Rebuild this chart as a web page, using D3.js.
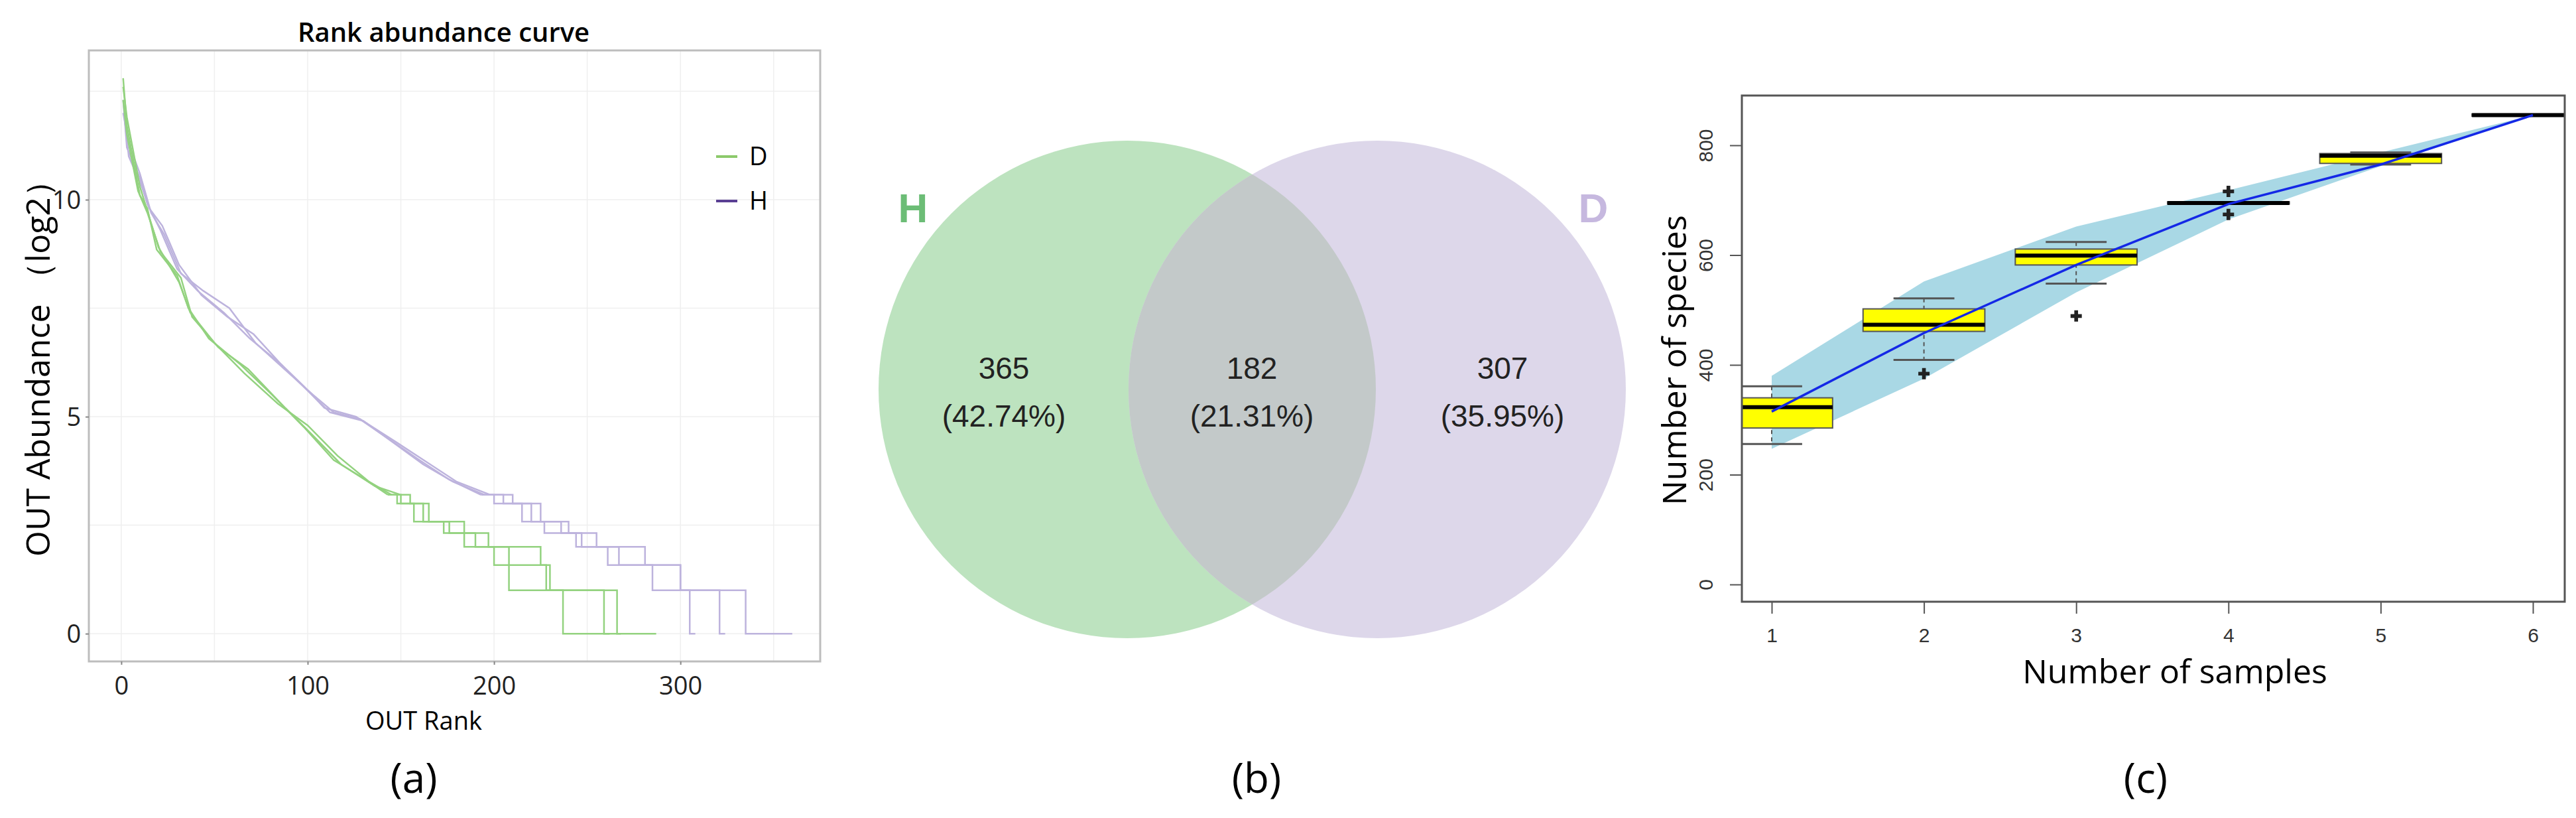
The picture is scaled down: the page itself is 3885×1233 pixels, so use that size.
<!DOCTYPE html>
<html><head><meta charset="utf-8">
<script src="https://cdn.jsdelivr.net/npm/d3@7"></script>
<style>body{margin:0;background:#fff}svg{display:block}</style>
</head><body><div id="fig"></div>
<script>
// ---- panel (a): rank abundance, [rank, log2 abundance]
const rankTicks = [0, 100, 200, 300];
const abundTicks = [0, 5, 10];
const groupNames = ["D", "H"];
const dUpper = [
  [[1,12.8],[3,11.7],[10,10.1],[14,9.8],[19,8.85],[30,8.25],[36,7.5],[47,6.8],[64,6.2],[81,5.5],[98,4.76],[114,4.0],[131,3.55],[143,3.2]],
  [[1,12.6],[3,11.9],[10,10.3],[15,9.6],[20,8.9],[31,8.1],[37,7.4],[50,6.7],[66,6.0],[84,5.3],[100,4.8],[116,4.1],[133,3.5],[145,3.2]],
  [[1,12.3],[3,11.5],[9,10.2],[14,9.7],[21,8.8],[32,8.2],[38,7.3],[52,6.6],[68,6.1],[88,5.2],[102,4.6],[118,3.9],[136,3.4],[150,3.2]]
];
const dTail = [
  [[148,3],[157,2.58],[173,2.32],[184,2],[200,1.58],[208,1],[237,0],[287,0]],
  [[150,3],[162,2.58],[176,2.32],[190,2],[208,1.58],[228,1],[259,0],[262,0]],
  [[155,3],[165,2.58],[184,2.32],[197,2],[225,1.58],[230,1],[266,0],[268,0]]
];
const hUpper = [
  [[1,12.3],[3,11.2],[10,10.5],[14,9.9],[21,9.3],[30,8.4],[41,7.9],[55,7.4],[69,6.8],[86,6.2],[98,5.7],[109,5.2],[126,5.0],[143,4.5],[160,4.0],[176,3.55],[193,3.2]],
  [[2,11.8],[4,11.0],[11,10.3],[15,9.8],[22,9.4],[31,8.5],[43,7.8],[57,7.3],[71,6.9],[88,6.1],[100,5.6],[112,5.1],[130,4.9],[146,4.4],[162,3.9],[178,3.5],[195,3.2]],
  [[1,12.0],[4,11.3],[10,10.6],[16,9.7],[23,9.2],[32,8.3],[44,7.9],[58,7.5],[72,6.7],[90,6.0],[103,5.5],[114,5.1],[128,4.95],[148,4.4],[164,3.95],[180,3.5],[198,3.2]]
];
const hTail = [
  [[200,3],[215,2.58],[236,2.32],[247,2],[261,1.58],[285,1],[305,0],[308,0]],
  [[205,3],[220,2.58],[227,2.32],[255,2],[267,1.58],[300,1],[321,0],[324,0]],
  [[210,3],[225,2.58],[240,2.32],[244,2],[281,1.58],[300,1],[335,0],[360,0]]
];

// ---- panel (b): Venn
const vennLabels = ["H", "D"];
const vennCounts = [365, 182, 307];
const vennPercents = ["42.74%", "21.31%", "35.95%"];

// ---- panel (c): species accumulation boxplots
const sampleN = [1, 2, 3, 4, 5, 6];
const boxLow  = [256, 409, 548, 695, 765, 855];
const boxQ1   = [285, 461, 582, 693, 767, 853];
const boxMed  = [323, 473, 599, 695, 781, 855];
const boxQ3   = [340, 502, 611, 697, 785, 857];
const boxHigh = [361, 521, 624, 695, 787, 855];
const outliers = [[2,384],[3,489],[4,716],[4,674]];
const meanLine = [315, 458, 582, 693, 765, 855];
const bandLow  = [247, 375, 532, 665, 762, 855];
const bandHigh = [380, 552, 652, 718, 787, 855];
const speciesTicks = [0, 200, 400, 600, 800];

const W = 3885, H = 1233;
const svg = d3.select("#fig").append("svg").attr("width", W).attr("height", H);
const FA = "'Open Sans','Noto Sans',sans-serif";
const FR = "'Liberation Sans',Arial,sans-serif";

// ================= (a)
{
  const x = d3.scaleLinear().domain([-17.4, 375]).range([134, 1237]);
  const y = d3.scaleLinear().domain([-0.64, 13.44]).range([997, 76]);
  const g = svg.append("g");
  const grid = g.append("g").attr("stroke", "#efefef").attr("stroke-width", 1.5);
  d3.range(0, 376, 50).forEach(v => grid.append("line").attr("x1", x(v)).attr("x2", x(v)).attr("y1", 76).attr("y2", 997));
  d3.range(0, 13.5, 2.5).forEach(v => grid.append("line").attr("y1", y(v)).attr("y2", y(v)).attr("x1", 134).attr("x2", 1237));
  g.append("rect").attr("x", 134).attr("y", 76).attr("width", 1103).attr("height", 921)
    .attr("fill", "none").attr("stroke", "#bdbdbd").attr("stroke-width", 3);

  const lin = d3.line().x(d => x(d[0])).y(d => y(d[1]));
  const stp = d3.line().x(d => x(d[0])).y(d => y(d[1])).curve(d3.curveStepAfter);
  const draw = (ups, tails, col) => ups.forEach((u, i) => {
    g.append("path").attr("d", lin(u)).attr("fill", "none").attr("stroke", col).attr("stroke-width", 2.5);
    g.append("path").attr("d", stp([u[u.length - 1], ...tails[i]])).attr("fill", "none").attr("stroke", col).attr("stroke-width", 2.5);
  });
  draw(hUpper, hTail, "#bdb3dd");
  draw(dUpper, dTail, "#93d27f");

  const xa = g.append("g").attr("transform", "translate(0,997)")
    .call(d3.axisBottom(x).tickValues(rankTicks).tickSize(5));
  const ya = g.append("g").attr("transform", "translate(134,0)")
    .call(d3.axisLeft(y).tickValues(abundTicks).tickSize(5));
  [xa, ya].forEach(a => {
    a.select(".domain").remove();
    a.selectAll("line").attr("stroke", "#888").attr("stroke-width", 2);
    a.selectAll("text").attr("font-family", FA).attr("font-size", 38).attr("fill", "#222");
  });
  xa.selectAll("text").attr("dy", "1.1em");
  ya.selectAll("text").attr("dx", "-0.1em").attr("dy", "0.35em");

  g.append("text").attr("x", 669).attr("y", 49).attr("text-anchor", "middle").attr("dy", "0.35em")
    .attr("font-family", FA).attr("font-weight", 600).attr("font-size", 40).text("Rank abundance curve");
  g.append("text").attr("x", 639).attr("y", 1087).attr("text-anchor", "middle").attr("dy", "0.35em")
    .attr("font-family", FA).attr("font-size", 38).text("OUT Rank");
  g.append("text").attr("transform", "translate(57,543) rotate(-90)").attr("text-anchor", "middle").attr("dy", "0.35em")
    .attr("font-family", FA).attr("font-size", 50).text("OUT Abundance （log2）");

  const legCols = ["#8cc96b", "#5a3f93"];
  groupNames.forEach((n, i) => {
    const ly = 236 + i * 67;
    g.append("line").attr("x1", 1080).attr("x2", 1112).attr("y1", ly).attr("y2", ly)
      .attr("stroke", legCols[i]).attr("stroke-width", 4);
    g.append("text").attr("x", 1130).attr("y", ly).attr("dy", "0.35em")
      .attr("font-family", FA).attr("font-size", 38).text(n);
  });
  g.append("text").attr("x", 624).attr("y", 1173).attr("text-anchor", "middle").attr("dy", "0.35em")
    .attr("font-family", FA).attr("font-size", 62).text("(a)");
}

// ================= (b)
{
  const g = svg.append("g");
  const cx = [1700, 2077], cy = 587, r = 375;
  g.append("clipPath").attr("id", "clipH").append("circle").attr("cx", cx[0]).attr("cy", cy).attr("r", r);
  g.append("circle").attr("cx", cx[0]).attr("cy", cy).attr("r", r).attr("fill", "#bde3bf");
  g.append("circle").attr("cx", cx[1]).attr("cy", cy).attr("r", r).attr("fill", "#ddd7ea");
  g.append("circle").attr("cx", cx[1]).attr("cy", cy).attr("r", r).attr("fill", "#c3c9c9").attr("clip-path", "url(#clipH)");
  const labelCol = ["#6cbd76", "#c6b8df"];
  const labelX = [1377, 2403];
  vennLabels.forEach((l, i) => g.append("text").attr("x", labelX[i]).attr("y", 313).attr("dy", "0.35em")
    .attr("text-anchor", "middle").attr("font-family", FR).attr("font-weight", "bold")
    .attr("font-size", 62).attr("fill", labelCol[i]).text(l));
  const tx = [1514, 1888, 2266];
  vennCounts.forEach((c, i) => {
    g.append("text").attr("x", tx[i]).attr("y", 555).attr("dy", "0.35em").attr("text-anchor", "middle")
      .attr("font-family", FR).attr("font-size", 46).attr("fill", "#222").text(c);
    g.append("text").attr("x", tx[i]).attr("y", 627).attr("dy", "0.35em").attr("text-anchor", "middle")
      .attr("font-family", FR).attr("font-size", 46).attr("fill", "#222").text(`(${vennPercents[i]})`);
  });
  g.append("text").attr("x", 1895).attr("y", 1173).attr("text-anchor", "middle").attr("dy", "0.35em")
    .attr("font-family", FA).attr("font-size", 62).text("(b)");
}

// ================= (c)
{
  const x = d3.scaleLinear().domain([1, 6]).range([2672, 3820]);
  const y = d3.scaleLinear().domain([0, 800]).range([881, 219]);
  const L = 2627, R = 3868, T = 144, B = 907;
  const g = svg.append("g");
  g.append("clipPath").attr("id", "clipC").append("rect").attr("x", L).attr("y", T).attr("width", R - L).attr("height", B - T);
  const pg = g.append("g").attr("clip-path", "url(#clipC)");

  const area = d3.area().x((d, i) => x(sampleN[i])).y0((d, i) => y(bandLow[i])).y1(d => y(d));
  pg.append("path").attr("d", area(bandHigh)).attr("fill", "#a9d8e5");

  const bw = (x(2) - x(1)) * 0.4, cw = (x(2) - x(1)) * 0.2;
  sampleN.forEach((n, i) => {
    const cxp = x(n);
    pg.append("line").attr("x1", cxp).attr("x2", cxp).attr("y1", y(boxHigh[i])).attr("y2", y(boxLow[i]))
      .attr("stroke", "#555").attr("stroke-width", 2).attr("stroke-dasharray", "6,5");
    [boxHigh[i], boxLow[i]].forEach(v => pg.append("line").attr("x1", cxp - cw).attr("x2", cxp + cw)
      .attr("y1", y(v)).attr("y2", y(v)).attr("stroke", "#555").attr("stroke-width", 3));
    pg.append("rect").attr("x", cxp - bw).attr("width", 2 * bw)
      .attr("y", y(boxQ3[i])).attr("height", Math.max(1, y(boxQ1[i]) - y(boxQ3[i])))
      .attr("fill", "#ffff00").attr("stroke", "#555").attr("stroke-width", 2);
    pg.append("line").attr("x1", cxp - bw).attr("x2", cxp + bw).attr("y1", y(boxMed[i])).attr("y2", y(boxMed[i]))
      .attr("stroke", "#000").attr("stroke-width", 6);
  });
  outliers.forEach(o => pg.append("path").attr("d", d3.symbol(d3.symbolCross, 160)())
    .attr("transform", `translate(${x(o[0])},${y(o[1])})`).attr("fill", "#222"));
  const ml = d3.line().x((d, i) => x(sampleN[i])).y(d => y(d));
  pg.append("path").attr("d", ml(meanLine)).attr("fill", "none").attr("stroke", "#1428e6").attr("stroke-width", 3.5);
  g.append("rect").attr("x", L).attr("y", T).attr("width", R - L).attr("height", B - T)
    .attr("fill", "none").attr("stroke", "#555").attr("stroke-width", 3);

  const xa = g.append("g").attr("transform", `translate(0,${B})`)
    .call(d3.axisBottom(x).tickValues(sampleN).tickFormat(d3.format("d")).tickSize(18).tickPadding(22));
  const ya = g.append("g").attr("transform", `translate(${L},0)`)
    .call(d3.axisLeft(y).tickValues(speciesTicks).tickFormat(d3.format("d")).tickSize(18));
  [xa, ya].forEach(a => {
    a.select(".domain").remove();
    a.selectAll("line").attr("stroke", "#555").attr("stroke-width", 2);
    a.selectAll("text").attr("font-family", FR).attr("font-size", 30).attr("fill", "#333");
  });
  ya.selectAll("text").attr("x", -55).attr("y", 0).attr("dy", "0.35em")
    .attr("text-anchor", "middle").attr("transform", "rotate(-90,-55,0)");

  g.append("text").attr("x", 3280).attr("y", 1012).attr("text-anchor", "middle").attr("dy", "0.35em")
    .attr("font-family", FA).attr("font-size", 50).text("Number of samples");
  g.append("text").attr("transform", "translate(2525,543) rotate(-90)").attr("text-anchor", "middle").attr("dy", "0.35em")
    .attr("font-family", FA).attr("font-size", 50).text("Number of species");
  g.append("text").attr("x", 3236).attr("y", 1173).attr("text-anchor", "middle").attr("dy", "0.35em")
    .attr("font-family", FA).attr("font-size", 62).text("(c)");
}
</script></body></html>
